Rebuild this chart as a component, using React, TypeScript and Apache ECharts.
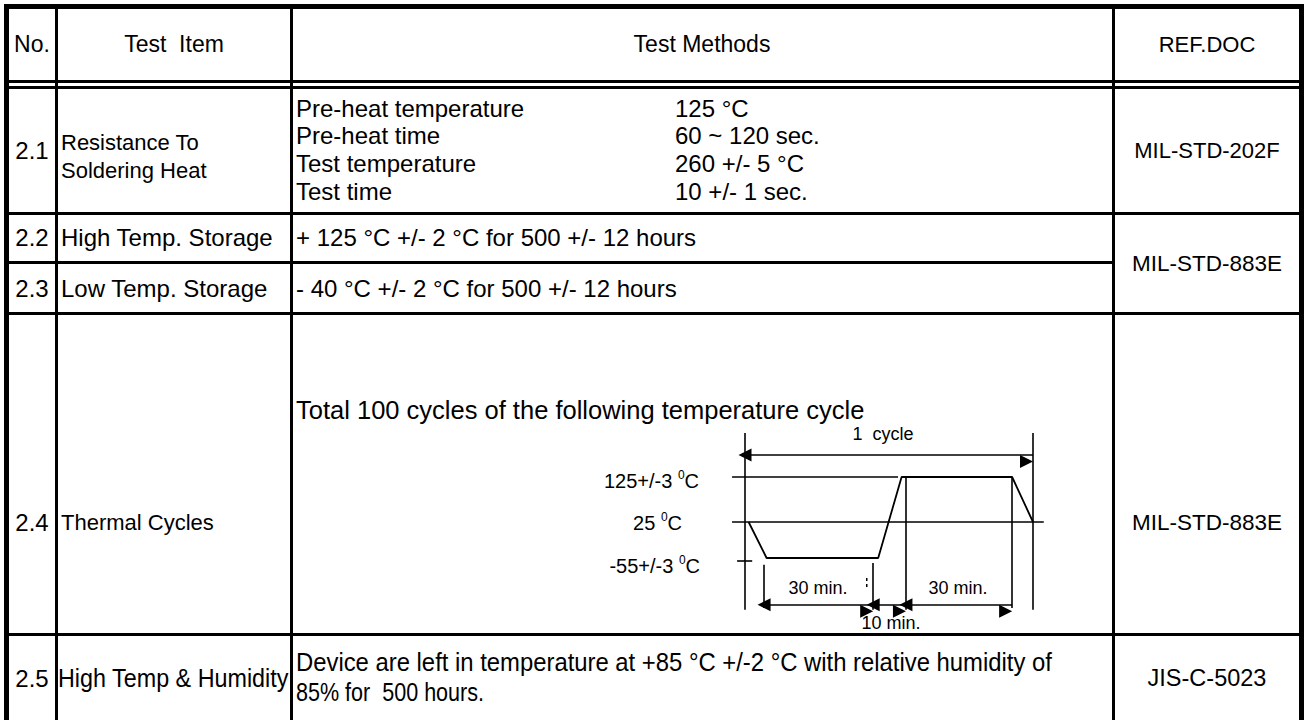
import React, { useEffect, useRef } from "react";
import * as echarts from "echarts";

const FONT = "'Liberation Sans', Arial, Helvetica, sans-serif";
const INK = "#000";

// ---------- table content ----------
const headerLabels = ["No.", "Test  Item", "Test Methods", "REF.DOC"];
const itemNumbers = ["2.1", "2.2", "2.3", "2.4", "2.5"];
const itemNames = ["Resistance To", "Soldering Heat", "High Temp. Storage", "Low Temp. Storage", "Thermal Cycles", "High Temp & Humidity"];
const solderParams = ["Pre-heat temperature", "Pre-heat time", "Test temperature", "Test time"];
const solderValues = ["125 \u00b0C", "60 ~ 120 sec.", "260 +/- 5 \u00b0C", "10 +/- 1 sec."];
const storageMethods = ["+ 125 \u00b0C +/- 2 \u00b0C for 500 +/- 12 hours", "- 40 \u00b0C +/- 2 \u00b0C for 500 +/- 12 hours"];
const cycleIntro = "Total 100 cycles of the following temperature cycle";
const humidityMethod = ["Device are left in temperature at +85 \u00b0C +/-2 \u00b0C with relative humidity of", "85% for  500 hours."];
const refDocs = ["MIL-STD-202F", "MIL-STD-883E", "MIL-STD-883E", "JIS-C-5023"];

// ---------- thermal cycle diagram (schematic minutes / deg C) ----------
const profileTime = [1, 6, 37, 43.5, 44.7, 74.2, 80];
const profileTemp = [25, -55, -55, 125, 125, 125, 25];
const levelLabels = ["125+/-3 ", "25 ", "-55+/-3 "];
const durationLabels = ["1  cycle", "30 min.", "30 min.", "10 min."];
// segment boundaries (minutes) of the dimension arrows
const cycleStart = 0;
const cycleEnd = 80;
const coldStart = 5.3;
const coldEnd = 35.6;
const hotStart = 44.7;
const hotEnd = 74.2;

let measureCtx: CanvasRenderingContext2D | null = null;
function measure(t: string, size: number) {
  if (!measureCtx) measureCtx = document.createElement("canvas").getContext("2d");
  measureCtx!.font = `${size}px ${FONT}`;
  return measureCtx!.measureText(t).width;
}

function buildGraphic() {
  const els: any[] = [];
  const rect = (x: number, y: number, w: number, h: number) =>
    els.push({ type: "rect", silent: true, shape: { x, y, width: w, height: h }, style: { fill: INK } });
  const text = (t: string, x: number, y: number, o: any = {}) => {
    const size = o.size ?? 24;
    const scaleX = o.scaleX ?? (o.fitWidth ? o.fitWidth / measure(t, size) : 1);
    els.push({
      type: "text",
      silent: true,
      x,
      y,
      scaleX,
      style: { text: t, fontSize: size, fontFamily: FONT, fill: INK, align: o.align ?? "left", verticalAlign: "middle" },
    });
  };

  // borders
  rect(4, 4, 1300, 5);
  rect(4, 4, 5, 716);
  rect(1299, 4, 5, 716);
  rect(9, 80, 1290, 3);
  rect(9, 86, 1290, 3);
  rect(55, 9, 3, 711);
  rect(290, 9, 3, 711);
  rect(1112, 9, 3, 711);
  rect(9, 212, 1290, 3);
  rect(9, 261, 1106, 3);
  rect(9, 312, 1290, 3);
  rect(9, 633, 1290, 3);

  // header
  text(headerLabels[0], 32, 44, { align: "center", size: 23 });
  text(headerLabels[1], 174, 44, { align: "center", size: 23 });
  text(headerLabels[2], 702, 44, { align: "center", size: 23 });
  text(headerLabels[3], 1207, 44, { align: "center", size: 22 });

  // numbers
  const noY = [150, 237, 288, 522, 678];
  itemNumbers.forEach((n, i) => text(n, 32, noY[i], { align: "center" }));

  // item names
  text(itemNames[0], 61, 142, { size: 22 });
  text(itemNames[1], 61, 170, { size: 22 });
  text(itemNames[2], 61, 237);
  text(itemNames[3], 61, 288);
  text(itemNames[4], 61, 522, { size: 22 });
  text(itemNames[5], 58, 678, { fitWidth: 231, size: 25 });

  // 2.1 methods
  const sy = [108, 135, 163, 191];
  solderParams.forEach((p, i) => text(p, 296, sy[i]));
  solderValues.forEach((v, i) => text(v, 675, sy[i]));
  // 2.2 / 2.3
  text(storageMethods[0], 296, 237);
  text(storageMethods[1], 296, 288);
  // 2.4
  text(cycleIntro, 296, 410, { size: 25.5 });
  // 2.5 (condensed)
  text(humidityMethod[0], 296, 662, { size: 25, fitWidth: 756 });
  text(humidityMethod[1], 296, 692, { size: 25, fitWidth: 188 });

  // ref docs
  text(refDocs[0], 1207, 150, { align: "center", size: 22 });
  text(refDocs[1], 1207, 263, { align: "center", size: 22.5 });
  text(refDocs[2], 1207, 522, { align: "center", size: 22.5 });
  text(refDocs[3], 1207, 678, { align: "center", size: 23.5 });

  // level labels with superscript 0
  const lvlRight = [699, 682, 700];
  const lvlY = [481, 523, 566];
  levelLabels.forEach((l, i) => {
    const w1 = measure(l, 20);
    const w0 = measure("0", 12);
    const wc = measure("C", 20);
    const x0 = lvlRight[i] - (w1 + w0 + wc);
    text(l, x0, lvlY[i], { size: 20 });
    text("0", x0 + w1, lvlY[i] - 6, { size: 12 });
    text("C", x0 + w1 + w0, lvlY[i], { size: 20 });
  });

  // duration labels
  text(durationLabels[0], 883, 434, { size: 18, align: "center" });
  text(durationLabels[1], 818, 588, { size: 18, align: "center" });
  text(durationLabels[2], 958, 588, { size: 18, align: "center" });
  text(durationLabels[3], 891, 623, { size: 18, align: "center" });
  // small dashed mark
  rect(866, 578, 1.5, 3);
  rect(866, 584, 1.5, 3);

  return els;
}

export default function App() {
  const ref = useRef<HTMLDivElement>(null);
  useEffect(() => {
    const chart = echarts.init(ref.current!, null, { renderer: "svg" });
    const lineStyle = { color: INK, width: 1.6, type: "solid" as const };
    const plain = (a: number[], b: number[]) => [{ coord: a }, { coord: b }];
    chart.setOption({
      animation: false,
      backgroundColor: "#fff",
      graphic: buildGraphic(),
      grid: { left: 727, top: 420.75, width: 324, height: 202.5 },
      xAxis: { type: "value", min: -5, max: 85, show: false },
      yAxis: { type: "value", min: -200, max: 250, show: false },
      series: [
        {
          type: "line",
          data: profileTime.map((t, i) => [t, profileTemp[i]]),
          symbol: "none",
          silent: true,
          lineStyle: { color: INK, width: 1.8 },
          markLine: {
            silent: true,
            symbol: ["none", "none"],
            label: { show: false },
            emphasis: { disabled: true },
            lineStyle,
            data: [
              plain([-3.6, 125], [42.5, 125]),
              plain([cycleStart, 223], [cycleStart, -170]),
              plain([cycleEnd, 223], [cycleEnd, -170]),
              plain([hotStart, 125], [hotStart, -170]),
              plain([hotEnd, 125], [hotEnd, -166]),
              plain([coldStart, -70], [coldStart, -166]),
              plain([coldEnd, -66], [coldEnd, -170]),
              plain([-2.2, -60], [2, -60]),
            ],
          },
        },
        {
          type: "line",
          data: [[-3.6, 25], [83, 25]],
          symbol: "none",
          silent: true,
          lineStyle: { color: INK, width: 1.6 },
          markLine: {
            silent: true,
            symbol: ["triangle", "triangle"],
            symbolSize: 13,
            symbolOffset: [0, "50%"],
            label: { show: false },
            emphasis: { disabled: true },
            lineStyle,
            data: [
              plain([cycleStart, 174], [cycleEnd, 174]),
              plain([coldStart, -159], [coldEnd, -159]),
              plain([coldEnd, -159], [hotStart, -159]),
              plain([hotStart, -159], [hotEnd, -159]),
            ],
          },
        },
      ],
    });
    return () => chart.dispose();
  }, []);
  return (
    <div
      ref={ref}
      style={{ position: "fixed", left: 0, top: 0, width: 1305, height: 720, background: "#fff" }}
    />
  );
}
